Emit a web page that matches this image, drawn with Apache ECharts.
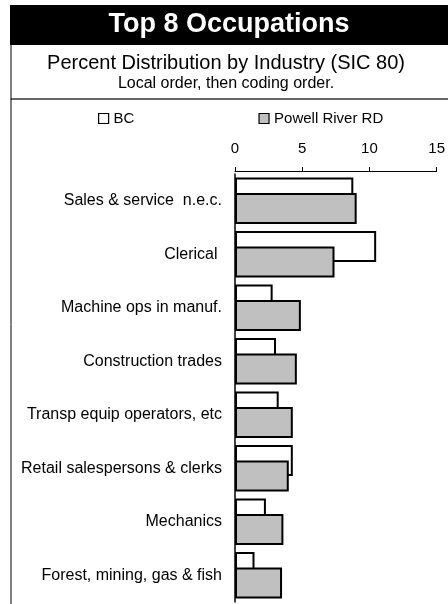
<!DOCTYPE html>
<html>
<head>
<meta charset="utf-8">
<script src="https://cdn.jsdelivr.net/npm/echarts@6/dist/echarts.min.js"></script>
<style>
  html, body { margin: 0; padding: 0; background: #fff; }
  #chart { width: 448px; height: 604px; }
</style>
</head>
<body>
<div id="chart"></div>
<script>
// occupations, local order then coding order
const occupations = [
  'Sales & service  n.e.c.',
  'Clerical ',
  'Machine ops in manuf.',
  'Construction trades',
  'Transp equip operators, etc',
  'Retail salespersons & clerks',
  'Mechanics',
  'Forest, mining, gas & fish'
]
const bcValues = [8.8, 10.5, 2.8, 3.05, 3.25, 4.3, 2.3, 1.45]
const powellValues = [9.05, 7.4, 4.9, 4.6, 4.3, 4.0, 3.6, 3.5]
const valueTicks = { min: 0, max: 15, step: 5 }

const chart = echarts.init(document.getElementById('chart'))
const font = 'Liberation Sans, Arial, sans-serif'

const option = {
  backgroundColor: '#fff',
  animation: false,
  textStyle: { fontFamily: font, color: '#000' },
  graphic: [
    // title band
    { type: 'rect', shape: { x: 10, y: 5, width: 438, height: 40 }, style: { fill: '#000' } },
    { type: 'text', x: 229, y: 25, style: { text: 'Top 8 Occupations', fill: '#fff', font: 'bold 27px ' + font, textAlign: 'center', textVerticalAlign: 'middle' } },
    { type: 'text', x: 226, y: 63, style: { text: 'Percent Distribution by Industry (SIC 80)', fill: '#000', font: '20px ' + font, textAlign: 'center', textVerticalAlign: 'middle' } },
    { type: 'text', x: 226, y: 84, style: { text: 'Local order, then coding order.', fill: '#000', font: '16px ' + font, textAlign: 'center', textVerticalAlign: 'middle' } },
    // frame lines
    { type: 'line', shape: { x1: 11, y1: 99, x2: 448, y2: 99 }, style: { stroke: '#333', lineWidth: 1.5 } },
    { type: 'line', shape: { x1: 11, y1: 45, x2: 11, y2: 604 }, style: { stroke: '#000', lineWidth: 1 } }
  ],
  legend: {
    left: 98,
    top: 111,
    padding: 0,
    icon: 'rect',
    itemWidth: 10,
    itemHeight: 10,
    itemGap: 124,
    itemStyle: { borderColor: '#000', borderWidth: 1.2 },
    textStyle: { fontSize: 15, color: '#000', fontFamily: font },
    data: ['BC', 'Powell River RD']
  },
  grid: { left: 235, right: 10, top: 174, bottom: 2 },
  xAxis: {
    type: 'value',
    position: 'top',
    offset: 3,
    min: valueTicks.min,
    max: valueTicks.max,
    interval: valueTicks.step,
    axisLine: { show: true, lineStyle: { color: '#000', width: 1 } },
    axisTick: { show: true, length: 4, lineStyle: { color: '#000' } },
    splitLine: { show: false },
    axisLabel: { fontSize: 15, color: '#000', margin: 15, fontFamily: font }
  },
  yAxis: {
    type: 'category',
    inverse: true,
    data: occupations,
    axisLine: { show: true, lineStyle: { color: '#000', width: 1.5 } },
    axisTick: { show: false },
    axisLabel: { fontSize: 16, color: '#000', margin: 13, fontFamily: font }
  },
  series: [
    {
      name: 'BC',
      type: 'bar',
      data: bcValues,
      barWidth: 31,
      barGap: '-50%',
      itemStyle: { color: '#fff', borderColor: '#000', borderWidth: 2 }
    },
    {
      name: 'Powell River RD',
      type: 'bar',
      data: powellValues,
      barWidth: 31,
      barGap: '-50%',
      itemStyle: { color: '#c0c0c0', borderColor: '#000', borderWidth: 2 }
    }
  ]
}

chart.setOption(option)
</script>
</body>
</html>
